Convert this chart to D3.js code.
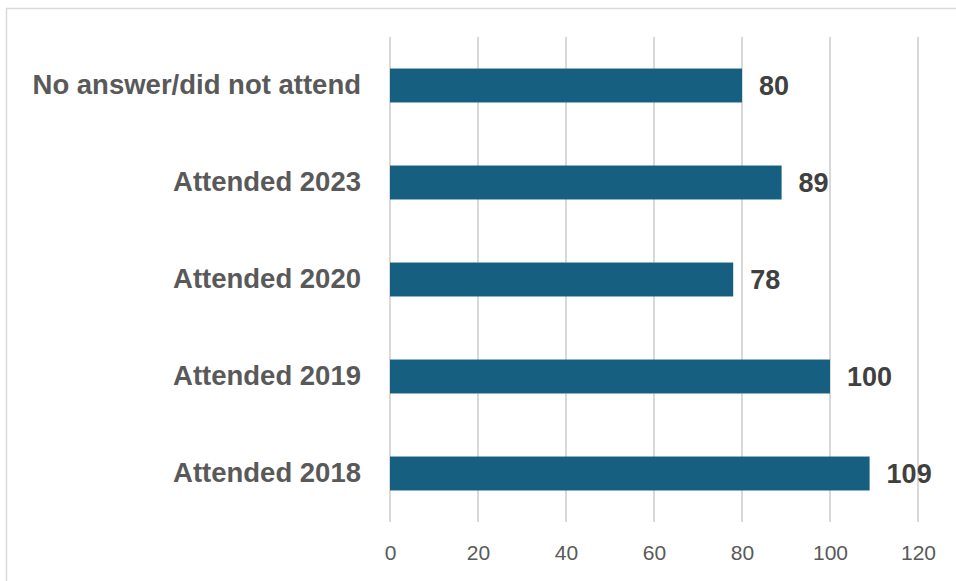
<!DOCTYPE html>
<html>
<head>
<meta charset="utf-8">
<script src="https://cdn.jsdelivr.net/npm/d3@7"></script>
<style>
  body { margin: 0; background: #fff; }
  svg { display: block; font-family: "Liberation Sans", Arial, sans-serif; }
</style>
</head>
<body>
<div id="chart"></div>
<script>
// data
const categories = ["No answer/did not attend", "Attended 2023", "Attended 2020", "Attended 2019", "Attended 2018"];
const counts = [80, 89, 78, 100, 109];
const xTicks = [0, 20, 40, 60, 80, 100, 120];

const width = 956, height = 581;
const margin = {top: 37, right: 38, bottom: 59, left: 390};

const svg = d3.select("#chart")
  .append("svg")
  .attr("width", width)
  .attr("height", height);

// chart frame (runs off right / bottom edge)
svg.append("rect")
  .attr("x", 6.5).attr("y", 8.5)
  .attr("width", 1000).attr("height", 1000)
  .attr("fill", "none")
  .attr("stroke", "#d9d9d9")
  .attr("stroke-width", 1.5);

const x = d3.scaleLinear()
  .domain([0, 120])
  .range([margin.left, width - margin.right]);

const y = d3.scaleBand()
  .domain(categories)
  .range([margin.top, height - margin.bottom])
  .paddingInner(0.65)
  .paddingOuter(0.325);

// gridlines
svg.append("g")
  .selectAll("line")
  .data(xTicks)
  .join("line")
  .attr("x1", d => x(d)).attr("x2", d => x(d))
  .attr("y1", margin.top).attr("y2", height - margin.bottom)
  .attr("stroke", "#d9d9d9")
  .attr("stroke-width", 2);

// x axis labels
const xAxis = svg.append("g")
  .attr("transform", `translate(0, ${height - margin.bottom})`)
  .call(d3.axisBottom(x).tickValues(xTicks).tickSize(0).tickPadding(23));
xAxis.select(".domain").remove();
xAxis.selectAll("text")
  .attr("font-size", 21)
  .attr("font-family", "Liberation Sans, Arial, sans-serif")
  .attr("fill", "#595959");

// category labels
const yAxis = svg.append("g")
  .attr("transform", `translate(${margin.left}, 0)`)
  .call(d3.axisLeft(y).tickSize(0).tickPadding(29));
yAxis.select(".domain").remove();
yAxis.selectAll("text")
  .attr("font-size", 27.5)
  .attr("font-weight", "bold")
  .attr("font-family", "Liberation Sans, Arial, sans-serif")
  .attr("fill", "#595959");

// bars
svg.append("g")
  .selectAll("rect")
  .data(categories)
  .join("rect")
  .attr("x", x(0))
  .attr("y", d => y(d))
  .attr("width", (d, i) => x(counts[i]) - x(0))
  .attr("height", y.bandwidth())
  .attr("fill", "#175f80");

// value labels
svg.append("g")
  .selectAll("text")
  .data(categories)
  .join("text")
  .attr("x", (d, i) => x(counts[i]) + 17)
  .attr("y", d => y(d) + y.bandwidth() / 2)
  .attr("dy", "0.36em")
  .attr("font-size", 27)
  .attr("font-weight", "bold")
  .attr("fill", "#404040")
  .text((d, i) => counts[i]);
</script>
</body>
</html>
